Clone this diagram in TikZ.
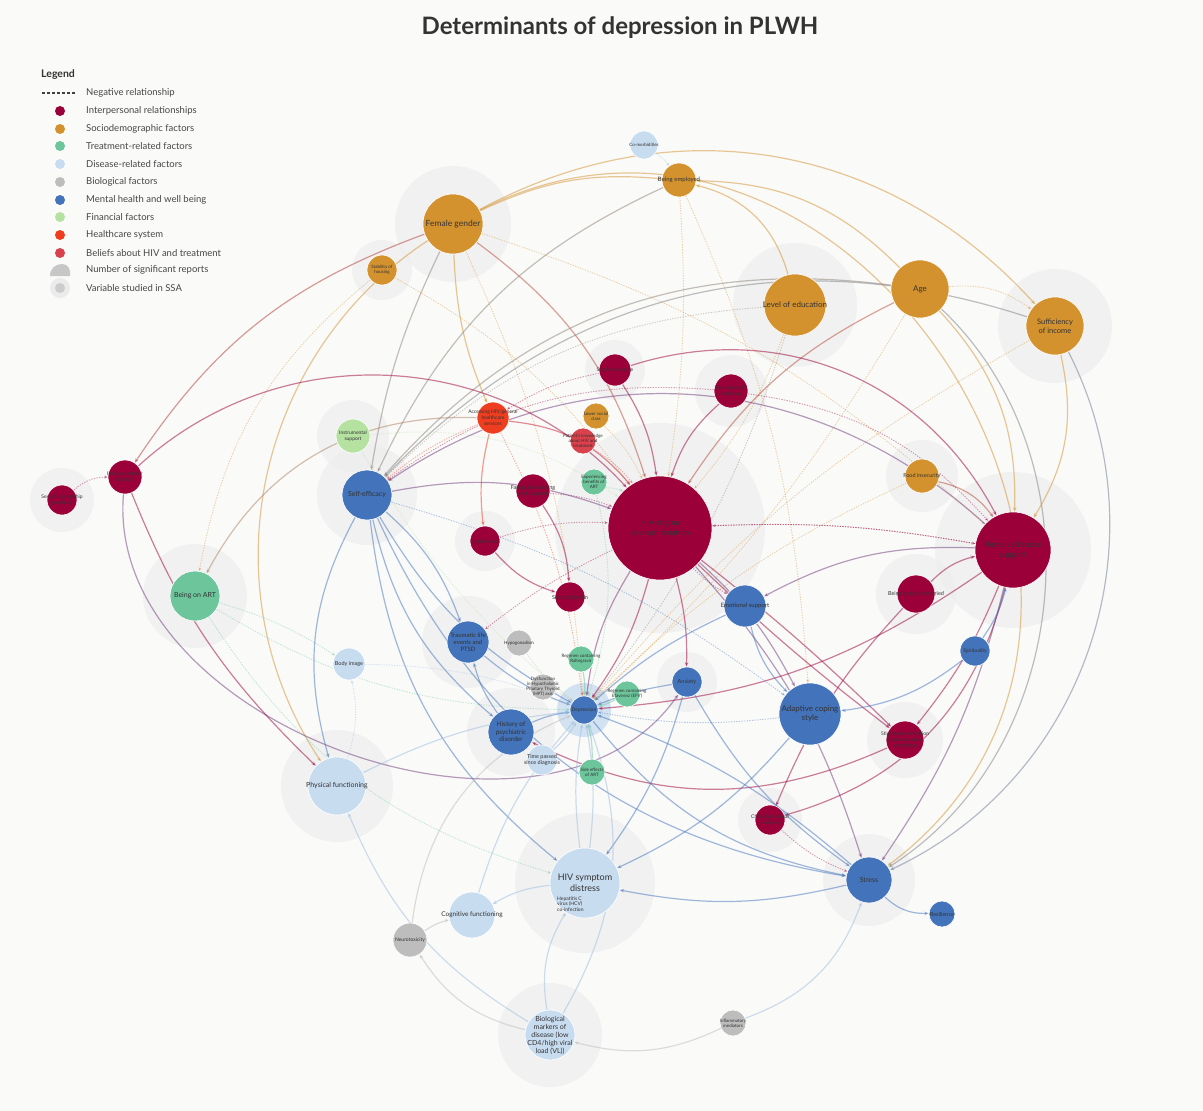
\documentclass[tikz,border=0pt]{standalone}
\usepackage{fontspec}
\setmainfont{Lato}
\usetikzlibrary{arrows.meta}

% factor groups
\definecolor{ip}{HTML}{9B0039}
\definecolor{so}{HTML}{D4922F}
\definecolor{tr}{HTML}{6CC59B}
\definecolor{di}{HTML}{C8DCF0}
\definecolor{dil}{HTML}{9EBEDF}
\definecolor{bi}{HTML}{BDBDBD}
\definecolor{mh}{HTML}{4373BA}
\definecolor{fi}{HTML}{B6E2A1}
\definecolor{hc}{HTML}{EE3E1F}
\definecolor{be}{HTML}{D9414C}
\definecolor{paperc}{HTML}{FAFAF9}
\definecolor{ink}{HTML}{333333}

\pgfdeclarelayer{paper}
\pgfdeclarelayer{halo}
\pgfdeclarelayer{links}
\pgfsetlayers{paper,halo,links,main}

% one factor: name, position, diameter, colour, font size, label
\newcommand\factor[6]{%
  \node[vn,fill=#4,minimum size=#3pt] (#1) at (#2) {};
  \node[lbl,font=\fontsize#5\selectfont] (#1-t) at (#2) {#6};}
% grey disc marking a variable studied in SSA
\newcommand\ssa[2]{\fill[halofill] (#1) circle[radius=#2];}

\begin{document}
\begin{tikzpicture}[x=1pt,y=1pt,
  vn/.style={circle,inner sep=0pt,draw=white,line width=0.6pt},
  lbl/.style={align=center,text=ink,inner sep=0pt},
  halofill/.style={fill=black!7,fill opacity=0.65},
  lk/.style={draw=#1,line width=1.2pt,opacity=0.5,-{Stealth[length=4.5pt,width=3.5pt]}},
  ng/.style={draw=#1,line width=0.9pt,opacity=0.4,dash pattern=on 1.3pt off 1.3pt,-{Stealth[length=3.5pt,width=3pt]}},
  legtxt/.style={anchor=west,text=black!72,font=\fontsize{9.5}{11}\selectfont,inner sep=0pt},
  legdot/.style={circle,inner sep=0pt,minimum size=10pt}]

\begin{pgfonlayer}{paper}
  \fill[paperc] (0,0) rectangle (1203,-1111);
\end{pgfonlayer}
\useasboundingbox (0,0) rectangle (1203,-1111);

% title
\node[font=\fontsize{24}{28}\selectfont\bfseries,text=ink] (title) at (620,-28) {Determinants of depression in PLWH};

% legend
\node[anchor=west,font=\fontsize{10.5}{12}\selectfont\bfseries,text=black!80,inner sep=0pt] (leg) at (41,-75) {Legend};
\coordinate (dA) at (42,-93);
\coordinate (dB) at (76,-93);
\draw[black!75,line width=1.1pt,dash pattern=on 2.5pt off 2.5pt] (dA) -- (dB);
\node[legtxt] (l0) at (86,-93) {Negative relationship};
\node[legdot,fill=ip] (d1) at (60,-111) {}; \node[legtxt] (l1) at (86,-111) {Interpersonal relationships};
\node[legdot,fill=so] (d2) at (60,-129) {}; \node[legtxt] (l2) at (86,-129) {Sociodemographic factors};
\node[legdot,fill=tr] (d3) at (60,-146) {}; \node[legtxt] (l3) at (86,-146) {Treatment-related factors};
\node[legdot,fill=di] (d4) at (60,-164) {}; \node[legtxt] (l4) at (86,-164) {Disease-related factors};
\node[legdot,fill=bi] (d5) at (60,-182) {}; \node[legtxt] (l5) at (86,-182) {Biological factors};
\node[legdot,fill=mh] (d6) at (60,-200) {}; \node[legtxt] (l6) at (86,-200) {Mental health and well being};
\node[legdot,fill=fi] (d7) at (60,-217) {}; \node[legtxt] (l7) at (86,-217) {Financial factors};
\node[legdot,fill=hc] (d8) at (60,-235) {}; \node[legtxt] (l8) at (86,-235) {Healthcare system};
\node[legdot,fill=be] (d9) at (60,-253) {}; \node[legtxt] (l9) at (86,-253) {Beliefs about HIV and treatment};
\fill[black!22] (50,-276) .. controls (50,-268) and (56,-264) .. (62,-264)
  .. controls (68,-264) and (71,-269) .. (70,-276) -- cycle;
\node[legtxt] (l10) at (86,-270) {Number of significant reports};
\fill[black!8] (60,-288) circle[radius=10];
\fill[black!20] (60,-288) circle[radius=5];
\node[legtxt] (l11) at (86,-288) {Variable studied in SSA};

% factors
\factor{fem}{453,-224}{60}{so}{{8.5}{10}}{Female gender}
\factor{house}{382,-270}{30}{so}{{4.5}{5}}{Stability of\\housing}
\factor{comorb}{644,-145}{28}{di}{{4.5}{5}}{Co-morbidities}
\factor{emp}{679,-180}{34}{so}{{6}{7}}{Being employed}
\factor{edu}{795,-305}{62}{so}{{8}{9.5}}{Level of education}
\factor{age}{920,-289}{58}{so}{{8}{9.5}}{Age}
\factor{income}{1055,-326}{58}{so}{{7.5}{9}}{Sufficiency\\of income}
\factor{food}{922,-476}{34}{so}{{5.5}{6.5}}{Food insecurity}
\factor{subst}{615,-370}{32}{ip}{{5}{6}}{Substance abuse}
\factor{ipp}{731,-391}{34}{ip}{{5}{6}}{Interpersonal\\problems}
\factor{acc}{493,-418}{32}{hc}{{5}{6}}{Accessing HIV/general\\healthcare\\services}
\factor{lowsc}{596,-416}{26}{so}{{4.5}{5.2}}{Lower social\\class}
\factor{know}{583,-441}{26}{be}{{4.5}{5.2}}{Patient's knowledge\\about HIV and\\treatment}
\factor{bene}{594,-482}{26}{tr}{{4.5}{5.2}}{Experiencing\\benefits of\\ART}
\factor{instr}{353,-436}{34}{fi}{{5}{6}}{Instrumental\\support}
\factor{self}{367,-495}{50}{mh}{{7}{8}}{Self-efficacy}
\factor{fam}{533,-491}{34}{ip}{{5.5}{6.5}}{Family functioning\\and support}
\factor{lone}{485,-541}{30}{ip}{{5.5}{6.5}}{Loneliness}
\factor{stig}{660,-528}{104}{ip}{{8}{10}}{HIV stigma\\or discrimination}
\factor{pss}{1013,-550}{76}{ip}{{8}{10}}{Perceived social\\support}
\factor{ipv}{125,-477}{34}{ip}{{5}{6}}{Intimate partner\\violence}
\factor{sexrel}{62,-500}{30}{ip}{{5}{6}}{Sexual relationship\\problems}
\factor{art}{195,-596}{50}{tr}{{7}{8}}{Being on ART}
\factor{isol}{570,-597}{30}{ip}{{5.5}{6.5}}{Social isolation}
\factor{emo}{745,-606}{42}{mh}{{6}{7}}{Emotional support}
\factor{single}{916,-594}{38}{ip}{{5.5}{6.5}}{Being single/unmarried}
\factor{spirit}{975,-651}{30}{mh}{{5}{6}}{Spirituality}
\factor{trauma}{468,-642}{42}{mh}{{6}{7}}{Traumatic life\\events and\\PTSD}
\factor{hypo}{519,-643}{26}{bi}{{4.5}{5}}{Hypogonadism}
\factor{ralt}{581,-659}{26}{tr}{{4.5}{5}}{Regimen containing\\Raltegravir}
\factor{body}{349,-664}{32}{di}{{5.5}{6.5}}{Body image}
\factor{hpt}{543,-687}{26}{bi}{{4.5}{5}}{Dysfunction\\in Hypothalamic\\Pituitary Thyroid\\(HPT) axis}
\factor{efv}{627,-694}{26}{tr}{{4.5}{5}}{Regimen containing\\Efavirenz (EFV)}
\factor{anx}{687,-682}{30}{mh}{{5.5}{6.5}}{Anxiety}
\factor{hist}{511,-732}{46}{mh}{{6.5}{7.5}}{History of\\psychiatric\\disorder}
\factor{cope}{810,-714}{62}{mh}{{8}{9}}{Adaptive coping\\style}
\factor{sostig}{905,-740}{38}{ip}{{5}{6}}{Stigma/discrimination\\based on sexual\\orientation}
\factor{time}{542,-760}{30}{di}{{5.5}{6}}{Time passed\\since diagnosis}
\factor{side}{592,-772}{26}{tr}{{4.5}{5}}{Side effects\\of ART}
\factor{dep}{584,-710}{28}{mh}{{5}{6}}{Depression}
\factor{phys}{337,-786}{58}{di}{{7}{8}}{Physical functioning}
\factor{child}{770,-820}{30}{ip}{{5}{6}}{Childhood sexual\\violence}
\factor{symp}{585,-883}{70}{di}{{9}{10.5}}{HIV symptom\\distress}
\node[lbl,anchor=west,align=left,font=\fontsize{5}{5.8}\selectfont] (hcv) at (557,-904) {Hepatitis C\\virus (HCV)\\co-infection};
\factor{stress}{869,-880}{46}{mh}{{7}{8}}{Stress}
\factor{resil}{942,-914}{26}{mh}{{5.5}{6.5}}{Resilience}
\factor{cogn}{472,-915}{46}{di}{{6.5}{7.5}}{Cognitive functioning}
\factor{neuro}{410,-940}{34}{bi}{{5}{6}}{Neurotoxicity}
\factor{bio}{550,-1035}{50}{di}{{7}{8}}{Biological\\markers of\\disease (low\\CD4/high viral\\load (VL))}
\factor{infl}{733,-1023}{26}{bi}{{4.5}{5}}{Inflammatory\\mediators}

% grey discs behind factors studied in SSA
\begin{pgfonlayer}{halo}
  \ssa{fem}{58} \ssa{house}{30} \ssa{edu}{62} \ssa{income}{57}
  \ssa{food}{36} \ssa{subst}{30} \ssa{ipp}{36} \ssa{instr}{36}
  \ssa{self}{50} \ssa{lone}{30} \ssa{stig}{105} \ssa{pss}{78}
  \ssa{sexrel}{32} \ssa{art}{52} \ssa{single}{40} \ssa{trauma}{46}
  \ssa{anx}{30} \ssa{hist}{44} \ssa{phys}{56} \ssa{sostig}{38}
  \ssa{child}{32} \ssa{symp}{70} \ssa{stress}{46} \ssa{bio}{52}
  \fill[di,opacity=0.8] (dep) circle[radius=27];
\end{pgfonlayer}

% relationships
\begin{pgfonlayer}{links}
  % sociodemographic
  \draw[lk=so] (fem) to[bend left=15] (emp);
  \draw[lk=so] (fem) to[bend left=38] (income);
  \draw[lk=so] (fem) to[bend left=85,looseness=1.4] (stress);
  \draw[lk=so] (fem) to[bend right=10] (acc);
  \draw[lk=so!50!ip] (fem) to[bend left=18] (stig);
  \draw[lk=so!40!ip] (fem) to[bend right=18] (ipv);
  \draw[lk=so] (fem) to[bend right=45] (phys);
  \draw[lk=so!50!mh] (fem) to[bend right=8] (self);
  \draw[ng=so] (fem) to[bend left=10] (dep);
  \draw[ng=so] (fem) to[bend left=12] (pss);
  \draw[ng=so] (age) to[bend left=20] (income);
  \draw[lk=so] (age) to[bend right=22] (emp);
  \draw[lk=so!50!ip] (age) to[bend right=15] (stig);
  \draw[lk=so] (age) to[bend left=22] (pss);
  \draw[lk=so!50!mh] (age) to[bend right=28] (self);
  \draw[lk=so!40!mh] (age) to[bend left=52] (stress);
  \draw[ng=so] (age) to[bend left=8] (dep);
  \draw[lk=so] (edu) to[bend right=30] (emp);
  \draw[ng=so!50!mh] (edu) to[bend left=10] (dep);
  \draw[ng=so] (edu) to[bend left=10] (stig);
  \draw[ng=so!50!mh] (edu) to[bend right=20] (self);
  \draw[lk=so] (income) to[bend left=22] (pss);
  \draw[lk=so!30!mh] (income) to[bend left=46] (stress);
  \draw[lk=so!40!mh] (income) to[bend right=32] (self);
  \draw[ng=so] (income) to[bend right=10] (dep);
  \draw[ng=dil] (comorb) to[bend left=10] (emp);
  \draw[ng=so] (house) to[bend right=20] (art);
  \draw[ng=so] (house) to[bend left=12] (stig);
  \draw[lk=so!50!mh] (emp) to[bend right=20] (self);
  \draw[ng=so] (emp) to[bend left=6] (stig);
  \draw[ng=so] (emp) to[bend left=10] (cope);
  \draw[lk=so!50!ip] (food) to[bend left=20] (pss);
  \draw[ng=so] (food) to[bend right=10] (dep);
  \draw[ng=so] (lowsc) to[bend left=10] (stig);
  % interpersonal
  \draw[lk=ip] (subst) to[bend left=12] (stig);
  \draw[lk=ip] (subst) to[bend left=40] (pss);
  \draw[ng=ip] (subst) to[bend right=10] (acc);
  \draw[lk=ip] (ipp) to[bend right=15] (stig);
  \draw[ng=ip] (ipp) to[bend left=20] (pss);
  \draw[ng=ip] (ipp) to[bend right=20] (self);
  \draw[lk=hc!50!ip] (acc) to[bend left=22] (stig);
  \draw[lk=hc] (acc) to[bend right=10] (lone);
  \draw[lk=hc!50!tr] (acc) to[bend right=32] (art);
  \draw[ng=hc] (acc) to[bend right=8] (self);
  \draw[ng=hc] (acc) to[bend left=10] (dep);
  \draw[ng=be] (know) to[bend left=10] (stig);
  \draw[ng=tr] (bene) to[bend left=10] (stig);
  \draw[ng=fi] (instr) to[bend right=10] (dep);
  \draw[ng=fi] (instr) to[bend left=20] (stig);
  \draw[lk=ip] (fam) to[bend left=15] (isol);
  \draw[ng=ip] (fam) to[bend left=8] (stig);
  \draw[lk=ip] (lone) to[bend right=15] (isol);
  \draw[ng=ip] (lone) to[bend left=10] (stig);
  \draw[lk=ip] (stig) to[bend left=10] (dep);
  \draw[lk=ip!60!mh] (stig) to[bend right=12] (dep);
  \draw[lk=ip] (stig) to[bend left=8] (anx);
  \draw[lk=ip] (stig) to[bend left=3] (sostig);
  \draw[lk=ip] (stig) to[bend right=3] (sostig);
  \draw[lk=ip!50!mh] (stig) to[bend left=10] (cope);
  \draw[lk=ip!50!mh] (stig) to[bend left=12] (stress);
  \draw[ng=ip] (stig) to[bend right=8] (emo);
  \draw[ng=ip] (stig) to[bend left=6] (pss);
  \draw[ng=ip] (stig) to[bend right=6] (trauma);
  \draw[lk=ip!50!mh] (pss) to[bend right=15] (emo);
  \draw[lk=ip] (pss) to[bend left=15] (dep);
  \draw[lk=ip] (pss) to[bend left=30] (child);
  \draw[lk=ip] (pss) to[bend left=8] (sostig);
  \draw[lk=ip!50!mh] (pss) to[bend left=10] (stress);
  \draw[lk=ip!50!mh] (pss) to[bend right=38] (self);
  \draw[ng=ip] (pss) to[bend right=6] (stig);
  \draw[lk=ip] (single) to[bend left=15] (pss);
  \draw[lk=ip] (single) to[bend right=10] (child);
  \draw[lk=ip!50!mh] (ipv) to[bend right=75] (anx);
  \draw[lk=ip] (ipv) to[bend left=45] (stig);
  \draw[ng=ip] (sexrel) to[bend left=20] (ipv);
  \draw[lk=ip] (ipv) to[bend right=12] (phys);
  \draw[ng=ip] (child) to[bend right=10] (stress);
  \draw[lk=ip] (sostig) to[bend left=25] (hist);
  % treatment
  \draw[ng=tr] (art) to[bend left=8] (body);
  \draw[ng=tr] (art) to[bend right=15] (dep);
  \draw[ng=tr] (art) to[bend right=20] (symp);
  \draw[lk=tr] (ralt) to[bend left=6] (dep);
  \draw[lk=tr] (efv) to[bend left=6] (dep);
  \draw[lk=tr] (side) to[bend right=8] (dep);
  \draw[ng=tr] (bene) to[bend left=15] (dep);
  % mental health
  \draw[lk=mh] (self) to[bend right=15] (dep);
  \draw[lk=mh] (self) to[bend left=14] (trauma);
  \draw[lk=mh] (self) to[bend right=18] (hist);
  \draw[lk=mh] (self) to[bend right=22] (phys);
  \draw[lk=mh] (self) to[bend right=22] (symp);
  \draw[lk=mh] (self) to[bend right=28] (stress);
  \draw[lk=mh!50!ip] (self) to[bend left=15] (stig);
  \draw[ng=mh] (self) to[bend left=10] (cope);
  \draw[lk=mh] (emo) to[bend right=15] (cope);
  \draw[lk=mh] (emo) to[bend right=8] (dep);
  \draw[lk=mh] (spirit) to[bend left=15] (cope);
  \draw[lk=mh] (spirit) to[bend right=10] (pss);
  \draw[ng=mh] (cope) to[bend left=8] (dep);
  \draw[lk=mh] (cope) to[bend left=12] (symp);
  \draw[lk=mh] (anx) to[bend right=6] (dep);
  \draw[lk=mh] (anx) to[bend right=12] (stress);
  \draw[lk=mh] (anx) to[bend left=10] (symp);
  \draw[lk=mh] (stress) to[bend right=10] (dep);
  \draw[lk=mh] (stress) to[bend right=22] (resil);
  \draw[lk=mh] (stress) to[bend left=12] (symp);
  \draw[lk=mh] (trauma) to[bend right=10] (dep);
  \draw[lk=mh] (hist) to[bend left=8] (dep);
  \draw[lk=mh] (hist) to[bend left=10] (trauma);
  \draw[lk=mh] (dep) to[bend right=20] (stress);
  % biological and disease
  \draw[ng=bi] (hypo) to[bend right=8] (dep);
  \draw[ng=bi] (hpt) to[bend left=8] (dep);
  \draw[ng=dil] (body) to[bend left=10] (dep);
  \draw[lk=dil] (time) to[bend right=8] (dep);
  \draw[lk=dil] (phys) to[bend left=10] (dep);
  \draw[lk=dil] (cogn) to[bend left=12] (dep);
  \draw[lk=dil] (symp) to[bend left=8] (dep);
  \draw[lk=dil] (symp) to[bend right=8] (dep);
  \draw[lk=dil] (bio) to[bend left=20] (symp);
  \draw[lk=dil] (bio) to[bend right=25] (dep);
  \draw[lk=dil] (bio) to[bend left=18] (phys);
  \draw[lk=dil] (symp) to[bend right=12] (cogn);
  \draw[lk=bi] (bio) to[bend left=22] (neuro);
  \draw[lk=bi] (neuro) to[bend left=30] (dep);
  \draw[lk=bi] (neuro) to[bend left=10] (cogn);
  \draw[lk=bi] (infl) to[bend left=20] (bio);
  \draw[lk=dil] (infl) to[bend right=25] (stress);
  \draw[ng=dil] (phys) to[bend right=15] (body);
\end{pgfonlayer}
\end{tikzpicture}
\end{document}
